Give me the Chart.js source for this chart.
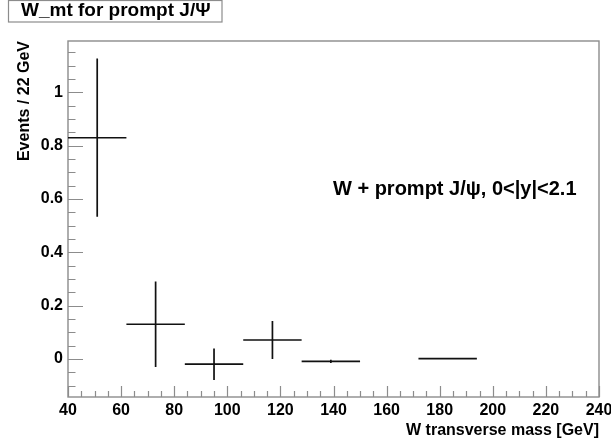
<!DOCTYPE html>
<html>
<head>
<meta charset="utf-8">
<script src="https://cdn.jsdelivr.net/npm/chart.js@4/dist/chart.umd.min.js"></script>
<style>
  html, body { margin: 0; padding: 0; background: #fff; }
  #wrap { width: 611px; height: 438px; }
</style>
</head>
<body>
<div id="wrap"><canvas id="c" width="611" height="438"></canvas></div>
<script>
// ---- data ----
const binCenters = [51, 73, 95, 117, 139, 183];      // W transverse mass bin centres [GeV]
const binWidth = 22;                                  // Events / 22 GeV
const values = [0.830, 0.130, -0.020, 0.071, -0.009, 0.001];
const errors = [0.297, 0.160, 0.059, 0.071, 0.006, 0.0];
const histTitle = 'W_mt for prompt J/\u03A8';
const annotation = 'W + prompt J/\u03C8, 0<|y|<2.1';
const xTitle = 'W transverse mass [GeV]';
const yTitle = 'Events / 22 GeV';

const FONT = "'Liberation Sans', Arial, Helvetica, sans-serif";
const AXIS_GRAY = '#8c8c8c';

function isMultiple(v, step) {
  const r = v / step;
  return Math.abs(r - Math.round(r)) < 1e-6;
}

const framePlugin = {
  id: 'frameTicks',
  beforeDatasetsDraw(chart) {
    const { ctx, chartArea: a, scales: { x, y } } = chart;
    ctx.save();
    ctx.strokeStyle = AXIS_GRAY;
    ctx.lineWidth = 1.4;
    ctx.strokeRect(a.left, a.top, a.right - a.left, a.bottom - a.top);
    ctx.lineWidth = 1.2;
    ctx.beginPath();
    y.ticks.forEach(t => {
      const py = Math.round(y.getPixelForValue(t.value)) + 0.5;
      const len = isMultiple(t.value, 0.2) ? 15 : 7.5;
      ctx.moveTo(a.left, py); ctx.lineTo(a.left + len, py);
    });
    x.ticks.forEach(t => {
      const px = Math.round(x.getPixelForValue(t.value)) + 0.5;
      const len = isMultiple(t.value, 20) ? 11 : 6;
      ctx.moveTo(px, a.bottom); ctx.lineTo(px, a.bottom - len);
    });
    ctx.stroke();
    ctx.restore();
  }
};

const crossPlugin = {
  id: 'crosses',
  afterDatasetsDraw(chart) {
    const { ctx, scales: { x, y } } = chart;
    const ds = chart.data.datasets[0];
    ctx.save();
    ctx.strokeStyle = '#111';
    ctx.lineWidth = 1.7;
    ds.data.forEach((p, i) => {
      const pl = x.getPixelForValue(p.x - binWidth / 2);
      const pr = x.getPixelForValue(p.x + binWidth / 2);
      const px = x.getPixelForValue(p.x);
      const py = y.getPixelForValue(p.y);
      ctx.beginPath();
      ctx.moveTo(pl, py); ctx.lineTo(pr, py);
      if (errors[i] > 0) {
        ctx.moveTo(px, y.getPixelForValue(p.y + errors[i]));
        ctx.lineTo(px, y.getPixelForValue(p.y - errors[i]));
      }
      ctx.stroke();
    });
    ctx.restore();
  }
};

const textPlugin = {
  id: 'texts',
  afterDraw(chart) {
    const { ctx, scales: { x, y } } = chart;
    ctx.save();
    // title box
    ctx.font = 'bold 19px ' + FONT;
    ctx.fillStyle = '#000';
    ctx.textBaseline = 'alphabetic';
    ctx.textAlign = 'left';
    ctx.fillText(histTitle, 21, 16);
    ctx.strokeStyle = AXIS_GRAY;
    ctx.lineWidth = 1.2;
    ctx.strokeRect(8.5, 0.5, 213.5, 21.5);
    // annotation
    ctx.font = 'bold 20px ' + FONT;
    ctx.textBaseline = 'middle';
    ctx.fillText(annotation, x.getPixelForValue(139.8), y.getPixelForValue(0.634));
    ctx.restore();
  }
};

new Chart(document.getElementById('c'), {
  type: 'scatter',
  data: {
    datasets: [{
      data: binCenters.map((c, i) => ({ x: c, y: values[i] })),
      pointRadius: 0,
      showLine: false
    }]
  },
  options: {
    responsive: false,
    animation: false,
    devicePixelRatio: 1,
    layout: { padding: { top: 41, right: 12, left: 0, bottom: 0 } },
    plugins: { legend: { display: false }, tooltip: { enabled: false } },
    scales: {
      x: {
        type: 'linear',
        min: 40, max: 240,
        grid: { display: false, drawTicks: false },
        border: { display: false },
        ticks: {
          stepSize: 5, autoSkip: false, maxRotation: 0, padding: 4,
          color: '#000', font: { family: FONT, size: 16, weight: 'bold' },
          callback: v => isMultiple(v, 20) ? String(Math.round(v)) : ''
        },
        title: {
          display: true, text: xTitle, align: 'end', color: '#000',
          font: { family: FONT, size: 16, weight: 'bold', lineHeight: 0.9 },
          padding: { top: 0, bottom: 0 }
        },
        afterFit(s) { s.height = 41; s.paddingLeft = 0; s.paddingRight = 0; }
      },
      y: {
        type: 'linear',
        min: -0.143, max: 1.193,
        grid: { display: false, drawTicks: false },
        border: { display: false },
        ticks: {
          stepSize: 0.05, autoSkip: false, includeBounds: false, padding: 5,
          color: '#000', font: { family: FONT, size: 16, weight: 'bold' },
          callback: v => isMultiple(v, 0.2) ? String(Math.round(v * 10) / 10) : ''
        },
        title: {
          display: true, text: yTitle, align: 'end', color: '#000',
          font: { family: FONT, size: 16, weight: 'bold', lineHeight: 1.2 },
          padding: { top: 15, bottom: 0 }
        },
        afterFit(s) { s.width = 68; s.paddingTop = 0; s.paddingBottom = 0; }
      }
    }
  },
  plugins: [framePlugin, crossPlugin, textPlugin]
});
</script>
</body>
</html>
